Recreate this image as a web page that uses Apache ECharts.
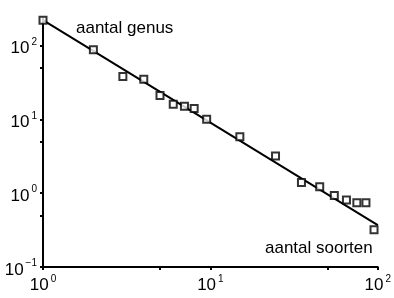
<!DOCTYPE html>
<html>
<head>
<meta charset="utf-8">
<script src="https://cdn.jsdelivr.net/npm/echarts@6/dist/echarts.min.js"></script>
<style>
  html, body { margin: 0; padding: 0; background: #fff; }
  #chart { width: 394px; height: 298px; }
</style>
</head>
<body>
<div id="chart"></div>
<script>
// aantal soorten (x) tegen aantal genus (y), log-log
var soorten = [1, 2, 3, 4, 5, 6, 7, 8, 9.5, 15, 24.5, 35, 45, 55, 65, 75, 85, 95];
var genus = [220, 88, 38, 35, 21, 16, 15, 14, 10, 5.8, 3.2, 1.4, 1.22, 0.93, 0.81, 0.74, 0.74, 0.32];
// fitted line, end points
var fitX = [1, 100];
var fitY = [221, 0.37];
// ticks and labels
var xTicks = [1, 5, 10, 50, 100];
var xLabels = [1, 10, 100];
var yTicks = [0.1, 0.5, 1, 5, 10, 50, 100];
var yLabels = [0.1, 1, 10, 100];

var font = "'Liberation Sans', Arial, sans-serif";

function powLabel(v) {
  var e = Math.round(Math.log10(v));
  var es = e < 0 ? "\u2212" + (-e) : String(e);
  return "{b|10}{e|" + es + "}";
}

// exponent sits above the base, base a bit below the tick
var labelRich = {
  b: { fontSize: 17, fontFamily: font, color: "#000", padding: [6, 0, 0, 0] },
  e: { fontSize: 10, fontFamily: font, color: "#000", verticalAlign: "top", padding: [3, 0, 0, 2] }
};

var chart = echarts.init(document.getElementById("chart"));

var option = {
  animation: false,
  grid: {
    left: 43,
    right: 9,
    top: 18,
    bottom: 31,
    containLabel: false
  },
  xAxis: {
    type: "log",
    logBase: 10,
    min: 1,
    max: 100,
    axisLine: { lineStyle: { color: "#000", width: 2 } },
    axisTick: {
      length: 3,
      lineStyle: { color: "#000", width: 2 },
      customValues: xTicks
    },
    axisLabel: {
      margin: 4,
      customValues: xLabels,
      formatter: powLabel,
      rich: labelRich
    },
    splitLine: { show: false }
  },
  yAxis: {
    type: "log",
    logBase: 10,
    min: 0.1,
    max: 236,
    axisLine: { lineStyle: { color: "#000", width: 2 } },
    axisTick: {
      length: 3,
      lineStyle: { color: "#000", width: 2 },
      customValues: yTicks
    },
    axisLabel: {
      margin: 6,
      customValues: yLabels,
      formatter: powLabel,
      rich: labelRich
    },
    splitLine: { show: false }
  },
  graphic: [
    {
      type: "text",
      left: 76,
      top: 20,
      style: { text: "aantal genus", font: "17px " + font, fill: "#000" }
    },
    {
      type: "text",
      left: 265,
      top: 240,
      style: { text: "aantal soorten", font: "17px " + font, fill: "#000" }
    }
  ],
  series: [
    {
      type: "line",
      data: fitX.map(function (x, i) { return [x, fitY[i]]; }),
      showSymbol: false,
      lineStyle: { color: "#000", width: 2 },
      z: 2
    },
    {
      type: "scatter",
      data: soorten.map(function (x, i) { return [x, genus[i]]; }),
      symbol: "rect",
      symbolSize: 7,
      itemStyle: { color: "#fff", borderColor: "#000", borderWidth: 2 },
      z: 3
    }
  ]
};

chart.setOption(option);
</script>
</body>
</html>
